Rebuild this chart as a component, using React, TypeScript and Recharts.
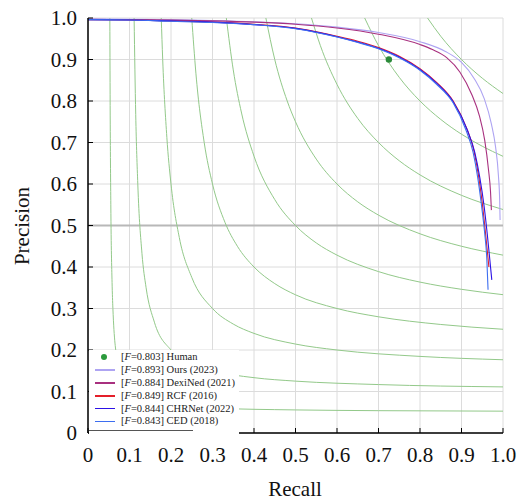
import React from 'react';
import {
  ComposedChart, Line, Scatter, XAxis, YAxis, CartesianGrid, ReferenceLine,
} from 'recharts';

if (typeof document !== 'undefined') document.body.style.margin = '0';

// axis ticks
const tickValues = [0, 0.1, 0.2, 0.3, 0.4, 0.5, 0.6, 0.7, 0.8, 0.9, 1.0];
const tickLabels = ['0', '0.1', '0.2', '0.3', '0.4', '0.5', '0.6', '0.7', '0.8', '0.9', '1.0'];

// iso-F contours, [recall, precision]
const isoF1 = [[0.0526, 1], [0.0535, 0.764], [0.055, 0.55], [0.058, 0.3625], [0.06, 0.3], [0.07, 0.175], [0.08, 0.133], [0.1, 0.1], [0.15, 0.075], [0.2, 0.0667], [0.3, 0.06], [0.5, 0.0556], [0.7, 0.0538], [1.0, 0.0526]];
const isoF2 = [[0.1111, 1], [0.115, 0.767], [0.12, 0.6], [0.13, 0.433], [0.14, 0.35], [0.16, 0.267], [0.2, 0.2], [0.25, 0.1667], [0.3, 0.15], [0.4, 0.1333], [0.5, 0.125], [0.7, 0.1167], [1.0, 0.1111]];
const isoF3 = [[0.1765, 1], [0.18, 0.9], [0.19, 0.7125], [0.2, 0.6], [0.22, 0.471], [0.25, 0.375], [0.3, 0.3], [0.35, 0.2625], [0.4, 0.24], [0.5, 0.2143], [0.6, 0.2], [0.8, 0.1846], [1.0, 0.1765]];
const isoF4 = [[0.25, 1], [0.26, 0.867], [0.28, 0.7], [0.3, 0.6], [0.33, 0.5077], [0.36, 0.45], [0.4, 0.4], [0.45, 0.36], [0.5, 0.333], [0.6, 0.3], [0.7, 0.28], [0.85, 0.2615], [1.0, 0.25]];
const isoF5 = [[0.3333, 1], [0.35, 0.875], [0.37, 0.771], [0.4, 0.667], [0.45, 0.5625], [0.5, 0.5], [0.55, 0.458], [0.6, 0.4286], [0.7, 0.3889], [0.8, 0.3636], [0.9, 0.3462], [1.0, 0.3333]];
const isoF6 = [[0.4286, 1], [0.45, 0.9], [0.48, 0.8], [0.5, 0.75], [0.55, 0.66], [0.6, 0.6], [0.65, 0.557], [0.7, 0.525], [0.8, 0.48], [0.9, 0.45], [1.0, 0.4286]];
const isoF7 = [[0.5385, 1], [0.56, 0.9333], [0.6, 0.84], [0.65, 0.758], [0.7, 0.7], [0.75, 0.656], [0.8, 0.622], [0.9, 0.5727], [1.0, 0.5385]];
const isoF8 = [[0.6667, 1], [0.7, 0.9333], [0.75, 0.857], [0.8, 0.8], [0.85, 0.7556], [0.9, 0.72], [0.95, 0.691], [1.0, 0.6667]];
const isoF9 = [[0.8182, 1], [0.85, 0.956], [0.9, 0.9], [0.95, 0.855], [1.0, 0.818]];
const isoCurves = [isoF1, isoF2, isoF3, isoF4, isoF5, isoF6, isoF7, isoF8, isoF9];

// PR curves, [recall, precision]
const oursCurve = [[0, 0.998], [0.1, 0.997], [0.2, 0.996], [0.3, 0.994], [0.4, 0.991], [0.5, 0.986], [0.6, 0.978], [0.7, 0.965], [0.8, 0.943], [0.86, 0.92], [0.9, 0.893], [0.93, 0.855], [0.955, 0.805], [0.972, 0.745], [0.982, 0.69], [0.989, 0.62], [0.992, 0.56], [0.993, 0.513]];
const dexinedCurve = [[0, 0.997], [0.1, 0.996], [0.2, 0.995], [0.3, 0.993], [0.4, 0.99], [0.5, 0.985], [0.6, 0.976], [0.7, 0.961], [0.8, 0.936], [0.83, 0.924], [0.865, 0.904], [0.896, 0.87], [0.925, 0.815], [0.943, 0.765], [0.956, 0.705], [0.965, 0.635], [0.97, 0.58], [0.972, 0.537]];
const rcfCurve = [[0, 0.996], [0.1, 0.995], [0.2, 0.993], [0.3, 0.99], [0.4, 0.985], [0.5, 0.976], [0.55, 0.967], [0.6, 0.956], [0.65, 0.944], [0.7, 0.929], [0.75, 0.908], [0.8, 0.878], [0.84, 0.845], [0.88, 0.8], [0.912, 0.735], [0.93, 0.68], [0.941, 0.62], [0.95, 0.554], [0.958, 0.48], [0.963, 0.43], [0.966, 0.4]];
const chrnetCurve = [[0, 0.996], [0.1, 0.995], [0.2, 0.993], [0.3, 0.99], [0.4, 0.984], [0.5, 0.975], [0.55, 0.966], [0.6, 0.955], [0.65, 0.942], [0.7, 0.927], [0.75, 0.906], [0.8, 0.876], [0.84, 0.843], [0.88, 0.798], [0.914, 0.73], [0.932, 0.676], [0.944, 0.616], [0.954, 0.55], [0.962, 0.48], [0.968, 0.42], [0.973, 0.369]];
const cedCurve = [[0, 0.996], [0.1, 0.995], [0.2, 0.992], [0.3, 0.989], [0.4, 0.984], [0.5, 0.974], [0.55, 0.965], [0.6, 0.954], [0.65, 0.941], [0.7, 0.926], [0.75, 0.904], [0.8, 0.874], [0.84, 0.84], [0.88, 0.795], [0.91, 0.732], [0.928, 0.676], [0.939, 0.616], [0.948, 0.55], [0.956, 0.48], [0.961, 0.42], [0.964, 0.345]];

const humanPoint = [[0.725, 0.9]];

const methodNames = ['Ours (2023)', 'DexiNed (2021)', 'RCF (2016)', 'CHRNet (2022)', 'CED (2018)'];
const methodScores = ['0.893', '0.884', '0.849', '0.844', '0.843'];
const methodColors = ['#aea4f2', '#a8307f', '#e41f2a', '#2c12e6', '#3d6ef0'];
const methodCurves = [oursCurve, dexinedCurve, rcfCurve, chrnetCurve, cedCurve];
const humanName = 'Human';
const humanScore = '0.803';

const FONT = '"Liberation Serif", "Times New Roman", Times, serif';
const textStyle: React.CSSProperties = { fontFamily: FONT, fontSize: 21, fill: '#111' };

const toPoints = (pairs: number[][]) => pairs.map(([r, p]) => ({ r, p }));
const labelFor = (v: number) => tickLabels[tickValues.findIndex((t) => Math.abs(t - v) < 1e-6)] ?? String(v);

function LeftTick(props: any) {
  const { x, y, payload } = props;
  return (
    <g>
      <line x1={x} x2={x + 5} y1={y} y2={y} stroke="#000" />
      <text x={x - 11} y={y} textAnchor="end" dominantBaseline="central" style={textStyle}>
        {labelFor(payload.value)}
      </text>
    </g>
  );
}

function BottomTick(props: any) {
  const { x, y, payload } = props;
  return (
    <g>
      <line x1={x} x2={x} y1={y} y2={y - 5} stroke="#000" />
      <text x={x} y={y + 22} textAnchor="middle" dominantBaseline="central" style={textStyle}>
        {labelFor(payload.value)}
      </text>
    </g>
  );
}

function TopTick(props: any) {
  const { x, y } = props;
  return <line x1={x} x2={x} y1={y} y2={y + 5} stroke="#000" />;
}

function RightTick(props: any) {
  const { x, y } = props;
  return <line x1={x} x2={x - 5} y1={y} y2={y} stroke="#000" />;
}

function LegendBox() {
  const row: React.CSSProperties = { display: 'flex', alignItems: 'center', height: 12.8 };
  const text: React.CSSProperties = { fontFamily: FONT, fontSize: 10.5, color: '#222', whiteSpace: 'nowrap', lineHeight: '12px' };
  return (
    <div style={{ position: 'absolute', left: 89, top: 350, width: 150, background: '#fff', padding: '1px 0 3px 0' }}>
      <div style={row}>
        <div style={{ width: 32, display: 'flex', justifyContent: 'center' }}>
          <div style={{ width: 6, height: 6, borderRadius: 3, background: '#2b9a3c', marginLeft: -2 }} />
        </div>
        <span style={text}>[<i>F</i>={humanScore}] {humanName}</span>
      </div>
      {methodNames.map((name, i) => (
        <div key={name} style={row}>
          <div style={{ width: 32, display: 'flex', alignItems: 'center' }}>
            <div style={{ marginLeft: 6, width: 20, height: 1.5, background: methodColors[i] }} />
          </div>
          <span style={text}>[<i>F</i>={methodScores[i]}] {name}</span>
        </div>
      ))}
      <div style={{ marginTop: 2, width: 104, height: 1.5, background: '#555' }} />
    </div>
  );
}

export default function App() {
  return (
    <div style={{ position: 'relative', width: 518, height: 501 }}>
      <ComposedChart width={518} height={501} margin={{ top: 18, right: 15, bottom: 0, left: 0 }}>
        <CartesianGrid stroke="#dcdcdc" strokeWidth={1} />
        <XAxis
          xAxisId={0}
          type="number"
          dataKey="r"
          domain={[0, 1]}
          ticks={tickValues}
          height={68}
          axisLine={{ stroke: '#000', strokeWidth: 1.5 }}
          tickLine={false}
          tickSize={0}
          tickMargin={0}
          tick={<BottomTick />}
          interval={0}
          allowDataOverflow
        />
        <XAxis
          xAxisId="top"
          orientation="top"
          type="number"
          domain={[0, 1]}
          ticks={tickValues}
          height={0}
          axisLine={{ stroke: '#000', strokeWidth: 1.5 }}
          tickLine={false}
          tickSize={0}
          tickMargin={0}
          tick={<TopTick />}
          interval={0}
        />
        <YAxis
          yAxisId={0}
          type="number"
          domain={[0, 1]}
          ticks={tickValues}
          width={88}
          axisLine={{ stroke: '#000', strokeWidth: 1.5 }}
          tickLine={false}
          tickSize={0}
          tickMargin={0}
          tick={<LeftTick />}
          interval={0}
          allowDataOverflow
        />
        <YAxis
          yAxisId="right"
          orientation="right"
          type="number"
          domain={[0, 1]}
          ticks={tickValues}
          width={0}
          axisLine={{ stroke: '#000', strokeWidth: 1.5 }}
          tickLine={false}
          tickSize={0}
          tickMargin={0}
          tick={<RightTick />}
          interval={0}
        />
        <ReferenceLine y={0.5} stroke="#b8b8b8" strokeWidth={2} />
        {isoCurves.map((c, i) => (
          <Line
            key={'iso' + i}
            data={toPoints(c)}
            dataKey="p"
            type="monotone"
            stroke="#93c98a"
            strokeWidth={1}
            dot={false}
            activeDot={false}
            legendType="none"
            isAnimationActive={false}
          />
        ))}
        {methodCurves.map((c, i) => (
          <Line
            key={methodNames[i]}
            name={methodNames[i]}
            data={toPoints(c)}
            dataKey="p"
            type="monotone"
            stroke={methodColors[i]}
            strokeWidth={1.1}
            dot={false}
            activeDot={false}
            isAnimationActive={false}
          />
        ))}
        <Scatter
          name={humanName}
          data={toPoints(humanPoint)}
          dataKey="p"
          fill="#2b8a3a"
          shape={(p: any) => <circle cx={p.cx} cy={p.cy} r={3.2} fill="#2b8a3a" />}
          isAnimationActive={false}
        />
      </ComposedChart>
      <LegendBox />
      <div style={{ position: 'absolute', left: 260, top: 477, width: 70, textAlign: 'center', fontFamily: FONT, fontSize: 21, color: '#111', lineHeight: '24px' }}>
        Recall
      </div>
      <div style={{ position: 'absolute', left: -28, top: 214, width: 100, textAlign: 'center', fontFamily: FONT, fontSize: 21, color: '#111', lineHeight: '24px', transform: 'rotate(-90deg)' }}>
        Precision
      </div>
    </div>
  );
}
